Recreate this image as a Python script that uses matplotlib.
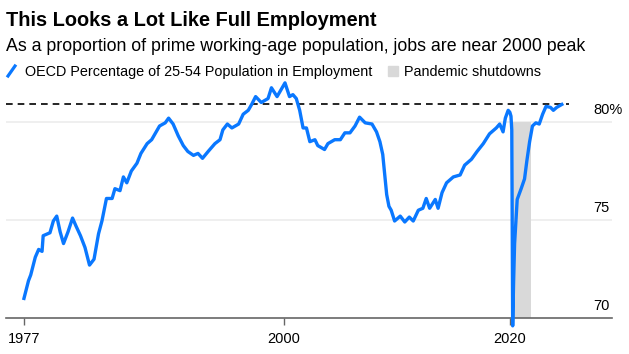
import matplotlib
matplotlib.use("Agg")
import matplotlib.pyplot as plt
from matplotlib.lines import Line2D
from matplotlib.patches import Rectangle

plt.rcParams['font.family'] = ['Liberation Sans', 'DejaVu Sans']

# OECD share of 25-54 population in employment
years = [1977.0, 1977.4, 1977.6, 1978.0, 1978.3, 1978.6, 1978.7, 1979.3, 1979.6, 1979.9,
         1980.2, 1980.5, 1980.9, 1981.3, 1981.6, 1982.0, 1982.4, 1982.8, 1983.2, 1983.6,
         1983.9, 1984.3, 1984.8, 1985.05, 1985.5, 1985.8, 1986.1, 1986.5, 1987.0, 1987.35,
         1987.9, 1988.3, 1988.6, 1989.0, 1989.5, 1989.8, 1990.2, 1990.65, 1991.1, 1991.5,
         1992.0, 1992.4, 1992.8, 1993.3, 1993.9, 1994.35, 1994.6, 1995.0, 1995.4, 1996.0,
         1996.4, 1996.85, 1997.15, 1997.5, 1998.0, 1998.6, 1998.9, 1999.4, 1999.8, 2000.1,
         2000.5, 2000.8, 2001.1, 2001.4, 2001.7, 2002.0, 2002.3, 2002.75, 2003.0, 2003.6,
         2003.9, 2004.5, 2005.0, 2005.4, 2005.85, 2006.3, 2006.7, 2007.2, 2007.8, 2008.2,
         2008.5, 2008.75, 2008.95, 2009.1, 2009.3, 2009.5, 2009.8, 2010.3, 2010.7, 2011.1,
         2011.45, 2011.9, 2012.3, 2012.6, 2012.9, 2013.4, 2013.65, 2014.0, 2014.4, 2015.0,
         2015.6, 2016.0, 2016.6, 2017.1, 2017.65, 2018.2, 2018.8, 2019.1, 2019.4, 2019.6,
         2019.85, 2020.0, 2020.1, 2020.17, 2020.25, 2020.33, 2020.42, 2020.55, 2020.65, 2021.0,
         2021.3, 2021.5, 2021.75, 2022.0, 2022.3, 2022.6, 2022.9, 2023.2, 2023.6, 2023.85,
         2024.15, 2024.6]
share = [71.0, 71.9, 72.2, 73.1, 73.5, 73.4, 74.2, 74.35, 74.95, 75.2,
         74.4, 73.8, 74.4, 75.1, 74.7, 74.2, 73.6, 72.7, 73.0, 74.3,
         74.95, 76.1, 76.1, 76.6, 76.5, 77.2, 76.9, 77.5, 77.9, 78.4,
         78.9, 79.1, 79.4, 79.8, 79.96, 80.2, 79.9, 79.3, 78.8, 78.5,
         78.3, 78.4, 78.15, 78.5, 78.9, 79.1, 79.6, 79.9, 79.7, 79.9,
         80.4, 80.6, 80.9, 81.3, 81.0, 81.2, 81.75, 81.3, 81.7, 82.0,
         81.3, 81.4, 81.2, 80.6, 79.7, 79.7, 79.0, 79.1, 78.8, 78.6,
         78.9, 79.1, 79.1, 79.45, 79.45, 79.8, 80.25, 79.96, 79.9, 79.5,
         79.0, 78.35, 77.2, 76.3, 75.7, 75.5, 74.95, 75.2, 74.9, 75.15,
         74.95, 75.5, 75.6, 76.1, 75.6, 76.05, 75.6, 76.4, 76.9, 77.2,
         77.3, 77.8, 78.1, 78.5, 78.9, 79.4, 79.7, 79.9, 79.5, 80.2,
         80.6, 80.5, 80.3, 79.6, 69.6, 71.8, 73.8, 75.1, 76.05, 76.6,
         77.1, 78.0, 79.0, 79.8, 79.96, 79.9, 80.4, 80.8, 80.75, 80.6,
         80.75, 80.9]

shutdown = (2020.27, 2021.87)
peak_ref = 80.9
ytick_vals = [70, 75, 80]
ytick_labels = ["70", "75", "80%"]
xtick_vals = [1977, 2000, 2020]

blue = '#0a78ff'

fig = plt.figure(figsize=(6.29, 3.54), dpi=100)
W, H = 629, 354
ax = fig.add_axes([6 / W, 36 / H, 606 / W, 241 / H])
ax.set_xlim(1975.41, 2029.04)
ax.set_ylim(70, 82.3)

# shaded pandemic shutdown
ax.fill_between(shutdown, 70, 80, color='#d9d9d9', lw=0, zorder=1)

# gridlines
for v in ytick_vals[1:]:
    ax.axhline(v, color='#ececec', lw=1.2, zorder=0)

# dashed reference line at latest level
ax.plot([1975.41, years[-1] + 0.6], [peak_ref, peak_ref], color='black',
        lw=1.2, ls=(0, (4, 3)), zorder=2)

ax.plot(years, share, color=blue, lw=2.4, zorder=3, clip_on=False,
        solid_joinstyle='round')

for s in ['top', 'right', 'left']:
    ax.spines[s].set_visible(False)
ax.spines['bottom'].set_color('#666666')
ax.spines['bottom'].set_linewidth(1.2)
ax.set_yticks([])
ax.set_xticks(xtick_vals)
ax.set_xticklabels([str(t) for t in xtick_vals], fontsize=10.5)
ax.tick_params(axis='x', length=5, width=1, color='#666666', pad=5)

# y labels sit just above their gridlines, on the right
for v, lab in zip(ytick_vals, ytick_labels):
    ax.annotate(lab, xy=((593 - 6) / 606, v), xycoords=ax.get_yaxis_transform(),
                xytext=(0, 5.8), textcoords='offset points', fontsize=10.5,
                ha='left', va='baseline')

# title, subtitle, legend
fig.text(6 / W, 1 - 26 / H, "This Looks a Lot Like Full Employment", fontsize=14.4,
         fontweight='bold', ha='left', va='baseline')
fig.text(6 / W, 1 - 51 / H,
         "As a proportion of prime working-age population, jobs are near 2000 peak",
         fontsize=12.8, ha='left', va='baseline')
fig.add_artist(Line2D([8 / W, 15 / W], [1 - 76 / H, 1 - 66 / H], color=blue, lw=2.3,
                      transform=fig.transFigure))
fig.text(25 / W, 1 - 76 / H, "OECD Percentage of 25-54 Population in Employment",
         fontsize=10.4, ha='left', va='baseline')
fig.add_artist(Rectangle((388 / W, 1 - 76 / H), 10 / W, 10 / H, color='#d9d9d9',
                         transform=fig.transFigure))
fig.text(404 / W, 1 - 76 / H, "Pandemic shutdowns", fontsize=10.4, ha='left',
         va='baseline')

fig.savefig('out.png', dpi=100)
